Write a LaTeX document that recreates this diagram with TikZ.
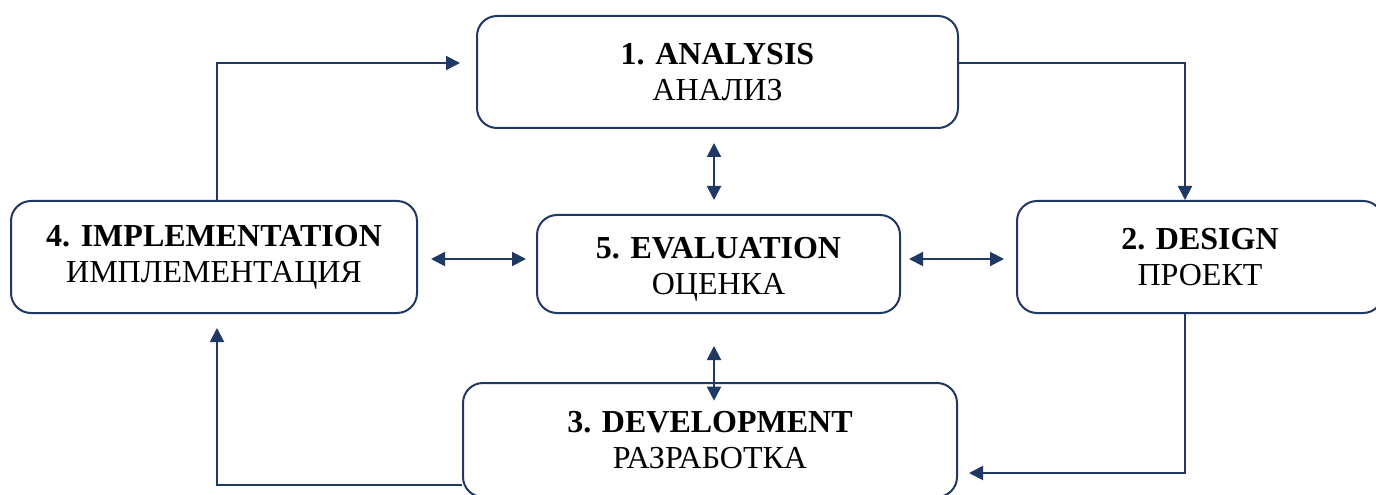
\documentclass[tikz,border=0pt]{standalone}
\usepackage{fontspec}
\setmainfont{Liberation Serif}
\usetikzlibrary{arrows.meta}
\definecolor{navy}{RGB}{31,56,100}
\tikzset{
  stage/.style={draw=navy, line width=1.5pt, rounded corners=15pt, align=center,
    font=\fontsize{24}{27}\selectfont, inner sep=0pt, text=black},
  flow/.style={draw=navy, line width=1.5pt, -{Triangle[length=10.5pt,width=10.5pt]}},
  both/.style={draw=navy, line width=1.5pt, {Triangle[length=10.5pt,width=10.5pt]}-{Triangle[length=10.5pt,width=10.5pt]}}
}
\begin{document}
\begin{tikzpicture}[x=0.75pt,y=-0.75pt]
\clip (0,0) rectangle (1376,495);
\fill[white] (0,0) rectangle (1376,495);
\node[stage, minimum width=360.75pt, minimum height=84pt] (A) at (717.5,72) {\textbf{1. ANALYSIS}\\АНАЛИЗ};
\node[stage, minimum width=274.5pt, minimum height=84pt] (D) at (1200,257) {\textbf{2. DESIGN}\\ПРОЕКТ};
\node[stage, minimum width=370.5pt, minimum height=85.5pt] (V) at (710,440) {\textbf{3. DEVELOPMENT}\\РАЗРАБОТКА};
\node[stage, minimum width=304.5pt, minimum height=84pt] (I) at (214,257) {\textbf{4. IMPLEMENTATION}\\ИМПЛЕМЕНТАЦИЯ};
\node[stage, minimum width=272.25pt, minimum height=73.5pt] (E) at (718.5,264) {\rule{0pt}{23.5pt}\textbf{5. EVALUATION}\\ОЦЕНКА};
% bend coordinates
\coordinate (top) at (0,63);
\coordinate (rx) at (1185,0);
\coordinate (low) at (0,473);
\coordinate (bot) at (0,485);
\coordinate (lx) at (217,0);
\coordinate (vx) at (714,0);
\coordinate (hy) at (0,259);
% cycle
\draw[flow] (A.east |- top) -| (D.north -| rx);
\draw[flow, shorten >=8.25pt] (D.south -| rx) |- (V.east |- low);
\draw[flow, shorten >=10.5pt] (V.west |- bot) -| (I.south -| lx);
\draw[flow, shorten >=12pt] (I.north -| lx) |- (A.west |- top);
% evaluation links
\draw[both, shorten <=10.5pt, shorten >=10.5pt] (A.south -| vx) -- (E.north -| vx);
\draw[both, shorten <=9.75pt, shorten >=7.5pt] (I.east |- hy) -- (E.west |- hy);
\draw[both, shorten <=6pt, shorten >=9pt] (E.east |- hy) -- (D.west |- hy);
\draw[both, shorten <=24pt, shorten >=-14pt] (E.south -| vx) -- (V.north -| vx);
\end{tikzpicture}
\end{document}
